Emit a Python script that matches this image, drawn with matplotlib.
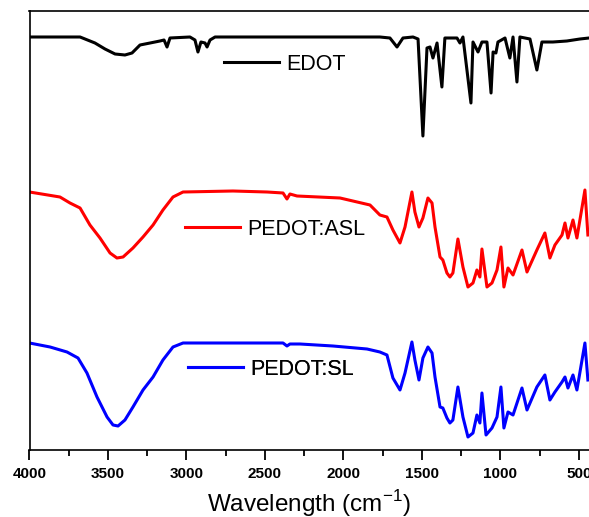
import numpy as np
import matplotlib
matplotlib.use("Agg")
import matplotlib.pyplot as plt

plt.rcParams['font.family'] = ['Liberation Sans', 'DejaVu Sans']

# FTIR spectra, intensity in arbitrary units (offset stacked)
wn_edot = [4000, 3678, 3583, 3519, 3455, 3392, 3347, 3296, 3232, 3169, 3143, 3124, 3105, 2978, 2946,
           2927, 2908, 2882, 2869, 2850, 2818, 1768, 1704, 1659, 1621, 1557, 1525, 1494, 1468, 1449,
           1430, 1404, 1373, 1354, 1277, 1258, 1239, 1188, 1175, 1143, 1118, 1086, 1060, 1047, 1029,
           1016, 971, 940, 920, 895, 876, 812, 768, 736, 666, 577, 494, 436]
edot = [413, 413, 407, 401, 396, 395, 397, 405, 407, 409, 410, 403, 412, 413, 410,
        398, 408, 407, 403, 410, 413, 413, 412, 403, 412, 413, 411, 314, 402, 403,
        392, 407, 363, 412, 412, 407, 413, 347, 408, 398, 408, 408, 357, 398, 397,
        408, 412, 392, 413, 368, 413, 411, 380, 408, 408, 409, 411, 412]

wn_asl = [4000, 3806, 3742, 3678, 3615, 3551, 3487, 3443, 3404, 3341, 3277, 3213, 3150, 3086, 3022,
          2704, 2487, 2385, 2360, 2341, 2296, 2022, 1831, 1768, 1723, 1685, 1640, 1608, 1564, 1545,
          1519, 1494, 1462, 1436, 1417, 1385, 1367, 1341, 1322, 1303, 1271, 1239, 1207, 1175, 1150,
          1131, 1118, 1086, 1054, 1022, 997, 978, 952, 920, 863, 831, 768, 717, 685, 653,
          608, 589, 570, 538, 513, 462, 443]
asl = [258, 253, 247, 242, 225, 212, 197, 192, 193, 202, 213, 225, 240, 253, 258,
       259, 258, 257, 251, 256, 254, 252, 245, 235, 233, 220, 207, 223, 258, 238,
       223, 232, 252, 247, 223, 193, 190, 177, 173, 177, 211, 183, 163, 167, 180,
       173, 201, 163, 167, 180, 203, 163, 182, 175, 200, 178, 200, 217, 192, 205,
       215, 227, 212, 230, 212, 260, 215]

wn_sl = [4000, 3869, 3761, 3691, 3634, 3570, 3506, 3468, 3436, 3392, 3341, 3277, 3213, 3150, 3086,
         3022, 2704, 2385, 2360, 2341, 2277, 2067, 1850, 1768, 1723, 1685, 1640, 1608, 1564, 1545,
         1519, 1494, 1462, 1436, 1417, 1385, 1367, 1341, 1322, 1303, 1271, 1239, 1207, 1175, 1150,
         1131, 1118, 1092, 1054, 1022, 997, 978, 952, 920, 863, 831, 768, 717, 685, 653,
         608, 589, 570, 538, 513, 462, 443]
sl = [107, 103, 98, 92, 77, 53, 33, 25, 24, 30, 43, 60, 73, 90, 103,
      107, 107, 107, 104, 106, 106, 104, 101, 98, 95, 72, 60, 77, 108, 90,
      70, 92, 103, 97, 73, 43, 42, 32, 27, 30, 63, 33, 13, 17, 35,
      27, 57, 15, 22, 33, 63, 22, 38, 35, 62, 40, 63, 75, 50, 58,
      68, 73, 62, 75, 60, 107, 70]

series = [
    (wn_edot, edot, 'black', 'EDOT', (0.3476, 0.879)),
    (wn_asl, asl, '#ff0000', 'PEDOT:ASL', (0.278, 0.503)),
    (wn_sl, sl, '#0000ff', 'PEDOT:SL', (0.283, 0.1845)),
]

fig = plt.figure(figsize=(5.89, 5.17), dpi=100)
ax = fig.add_axes([29.5 / 589, 67 / 517, 1 - 29.5 / 589, 439 / 517])

for x, y, c, name, pos in series:
    line, = ax.plot(x, y, color=c, lw=2.2, solid_joinstyle='round')
    leg = ax.legend([line], [name], loc='center left', bbox_to_anchor=pos,
                    frameon=False, fontsize=15.5, borderpad=0, borderaxespad=0,
                    handlelength=2.55, handletextpad=0.35)
    ax.add_artist(leg)

ax.set_xlim(4000, 436)
ax.set_ylim(0, 439)
ax.set_xticks(np.arange(4000, 499, -500))
ax.set_xticks(np.arange(3750, 499, -500), minor=True)
ax.set_yticks([])
ax.spines['right'].set_visible(False)
for s in ['left', 'bottom', 'top']:
    ax.spines[s].set_linewidth(1.2)
ax.tick_params(axis='x', which='major', direction='out', length=7, width=1.3,
               labelsize=11, pad=5)
ax.tick_params(axis='x', which='minor', direction='out', length=4, width=1.3)
for lab in ax.get_xticklabels():
    lab.set_fontweight('bold')
ax.set_xlabel('Wavelength (cm$^{\\mathregular{-1}}$)', fontsize=17.5, labelpad=5)

fig.savefig('out.png', dpi=100)
